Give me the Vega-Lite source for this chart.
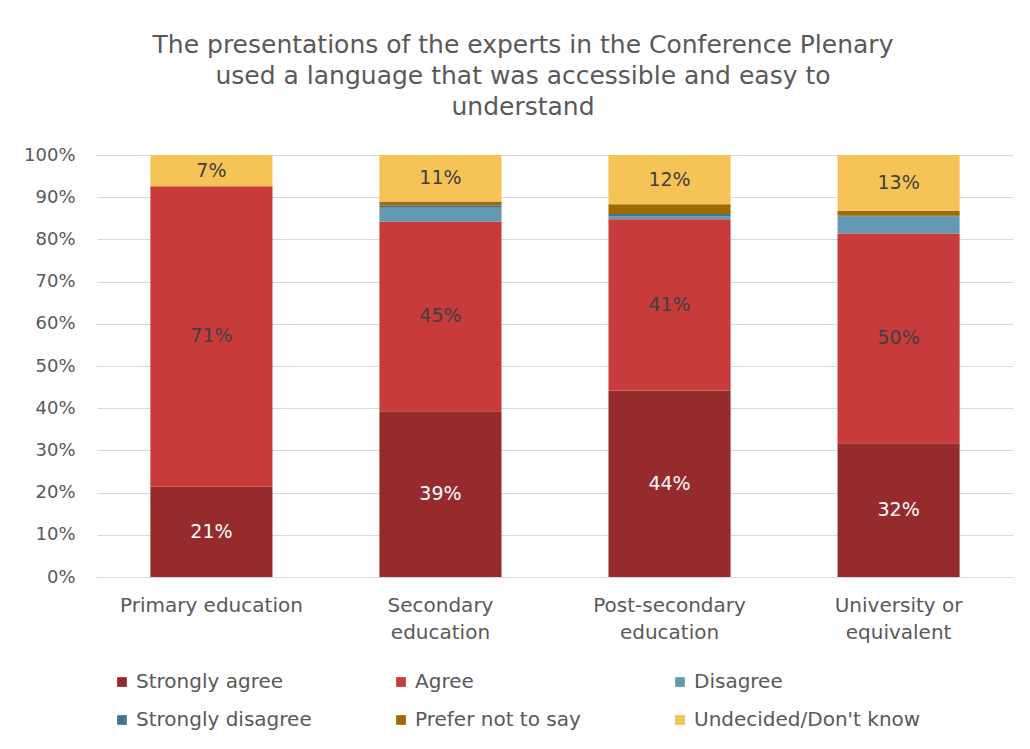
{
  "$schema": "https://vega.github.io/schema/vega-lite/v6.json",
  "width": 916,
  "height": 422,
  "autosize": "none",
  "padding": {"left": 97, "top": 155, "right": 17, "bottom": 172},
  "background": "white",
  "title": {
    "text": ["The presentations of the experts in the Conference Plenary", "used a language that was accessible and easy to", "understand"],
    "fontSize": 25,
    "font": "DejaVu Sans",
    "fontWeight": "normal",
    "color": "#595959",
    "lineHeight": 31,
    "offset": 26,
    "anchor": "middle",
    "dx": -32
  },
  "data": {
    "values": [
      {"category": "Primary education", "response": "Strongly agree", "order": 1, "value": 0.214},
      {"category": "Primary education", "response": "Agree", "order": 2, "value": 0.712},
      {"category": "Primary education", "response": "Undecided/Don't know", "order": 6, "value": 0.074},
      {"category": "Secondary education", "response": "Strongly agree", "order": 1, "value": 0.393},
      {"category": "Secondary education", "response": "Agree", "order": 2, "value": 0.449},
      {"category": "Secondary education", "response": "Disagree", "order": 3, "value": 0.033},
      {"category": "Secondary education", "response": "Strongly disagree", "order": 4, "value": 0.006},
      {"category": "Secondary education", "response": "Prefer not to say", "order": 5, "value": 0.009},
      {"category": "Secondary education", "response": "Undecided/Don't know", "order": 6, "value": 0.110},
      {"category": "Post-secondary education", "response": "Strongly agree", "order": 1, "value": 0.442},
      {"category": "Post-secondary education", "response": "Agree", "order": 2, "value": 0.406},
      {"category": "Post-secondary education", "response": "Disagree", "order": 3, "value": 0.006},
      {"category": "Post-secondary education", "response": "Strongly disagree", "order": 4, "value": 0.006},
      {"category": "Post-secondary education", "response": "Prefer not to say", "order": 5, "value": 0.023},
      {"category": "Post-secondary education", "response": "Undecided/Don't know", "order": 6, "value": 0.117},
      {"category": "University or equivalent", "response": "Strongly agree", "order": 1, "value": 0.317},
      {"category": "University or equivalent", "response": "Agree", "order": 2, "value": 0.497},
      {"category": "University or equivalent", "response": "Disagree", "order": 3, "value": 0.040},
      {"category": "University or equivalent", "response": "Strongly disagree", "order": 4, "value": 0.002},
      {"category": "University or equivalent", "response": "Prefer not to say", "order": 5, "value": 0.012},
      {"category": "University or equivalent", "response": "Undecided/Don't know", "order": 6, "value": 0.132}
    ]
  },
  "transform": [
    {"stack": "value", "groupby": ["category"], "sort": [{"field": "order", "order": "ascending"}], "as": ["y0", "y1"]}
  ],
  "encoding": {
    "x": {
      "field": "category",
      "type": "nominal",
      "sort": ["Primary education", "Secondary education", "Post-secondary education", "University or equivalent"],
      "scale": {"paddingInner": 0.467, "paddingOuter": 0.233},
      "axis": {
        "title": null,
        "labelAngle": 0,
        "labelFont": "DejaVu Sans",
        "labelFontSize": 20,
        "labelColor": "#595959",
        "labelPadding": 18,
        "labelLineHeight": 27,
        "labelBaseline": "top",
        "labelLimit": 300,
        "labelOverlap": false,
        "ticks": false,
        "domain": true,
        "domainColor": "#d9d9d9",
        "labelExpr": "datum.value == 'Primary education' ? datum.value : datum.value == 'University or equivalent' ? ['University or', 'equivalent'] : split(datum.value, ' ')"
      }
    }
  },
  "layer": [
    {
      "mark": {"type": "bar"},
      "encoding": {
        "y": {
          "field": "y0",
          "type": "quantitative",
          "scale": {"domain": [0, 1], "nice": false},
          "axis": {
            "title": null,
            "format": ".0%",
            "values": [0, 0.1, 0.2, 0.3, 0.4, 0.5, 0.6, 0.7, 0.8, 0.9, 1],
            "labelFont": "DejaVu Sans",
            "labelFontSize": 18,
            "labelColor": "#595959",
            "labelPadding": 22,
            "domain": false,
            "ticks": false,
            "grid": true,
            "gridColor": "#d9d9d9",
            "gridWidth": 1.2
          }
        },
        "y2": {"field": "y1"},
        "color": {
          "field": "response",
          "type": "nominal",
          "sort": ["Strongly agree", "Agree", "Disagree", "Strongly disagree", "Prefer not to say", "Undecided/Don't know"],
          "scale": {
            "domain": ["Strongly agree", "Agree", "Disagree", "Strongly disagree", "Prefer not to say", "Undecided/Don't know"],
            "range": ["#962b2d", "#c83b3b", "#6499b1", "#44738b", "#9e6b05", "#f6c456"]
          },
          "legend": {
            "title": null,
            "orient": "none",
            "legendX": 15,
            "legendY": 517,
            "direction": "horizontal",
            "columns": 3,
            "gridAlign": "all",
            "columnPadding": 28,
            "rowPadding": 18,
            "symbolType": "square",
            "symbolSize": 95,
            "symbolStrokeWidth": 0,
            "symbolOffset": 0,
            "labelOffset": 4,
            "labelFont": "DejaVu Sans",
            "labelFontSize": 20,
            "labelColor": "#595959",
            "labelLimit": 300
          }
        }
      }
    },
    {
      "transform": [
        {"filter": "datum.response == 'Strongly agree' || datum.response == 'Agree' || datum.response == \"Undecided/Don't know\""},
        {"fold": ["y0", "y1"], "as": ["edge", "pos"]},
        {"aggregate": [{"op": "mean", "field": "pos", "as": "mid"}, {"op": "max", "field": "value", "as": "value"}], "groupby": ["category", "response"]}
      ],
      "mark": {"type": "text", "font": "DejaVu Sans", "fontSize": 19, "baseline": "middle"},
      "encoding": {
        "y": {"field": "mid", "type": "quantitative"},
        "text": {"field": "value", "type": "quantitative", "format": ".0%"},
        "color": {
          "condition": {"test": "datum.response == 'Strongly agree'", "value": "white"},
          "value": "#404040"
        }
      }
    }
  ],
  "config": {
    "view": {"stroke": null}
  }
}
